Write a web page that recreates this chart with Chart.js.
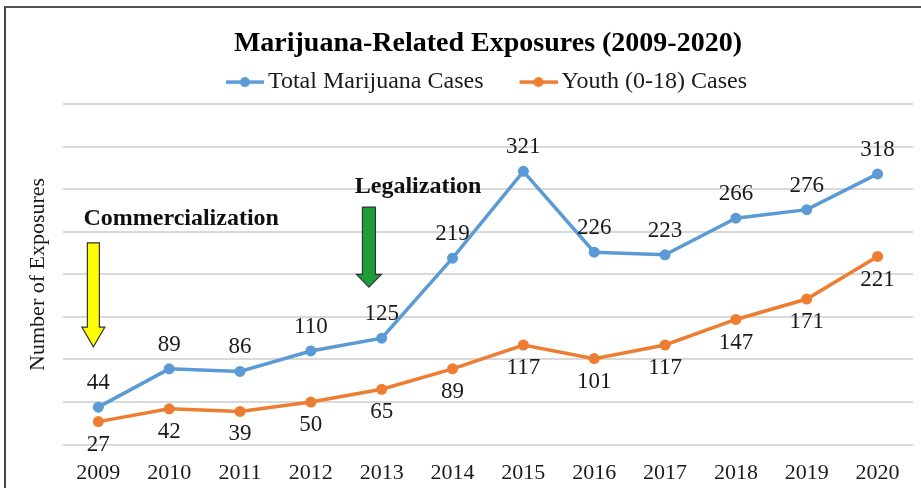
<!DOCTYPE html>
<html>
<head>
<meta charset="utf-8">
<title>Marijuana-Related Exposures</title>
<script src="https://cdn.jsdelivr.net/npm/chart.js@4.4.1/dist/chart.umd.min.js"></script>
<style>
    html, body { margin: 0; padding: 0; background: #fff; }
    #wrap { position: relative; width: 921px; height: 488px; overflow: hidden; }
    #frame { position: absolute; left: 4px; top: 6px; width: 1000px; height: 600px;
             border-left: 2px solid #444; border-top: 2px solid #555; }
    canvas { position: absolute; left: 0; top: 0; }
</style>
</head>
<body>
<div id="wrap">
    <div id="frame"></div>
    <canvas id="chart" width="921" height="488"></canvas>
</div>
<script>
// --- Data ---
const years = ["2009", "2010", "2011", "2012", "2013", "2014", "2015", "2016", "2017", "2018", "2019", "2020"];
const totalCases = [44, 89, 86, 110, 125, 219, 321, 226, 223, 266, 276, 318];
const youthCases = [27, 42, 39, 50, 65, 89, 117, 101, 117, 147, 171, 221];

const BLUE = "#5B9BD5";
const ORANGE = "#ED7D31";
const SERIF = "'Liberation Serif', 'Times New Roman', serif";

// legend marker: short line with a dot, right-aligned in a wider canvas
// (the empty left part gives the gap between the two legend items)
function legendMarker(color) {
    const c = document.createElement("canvas");
    c.width = 72; c.height = 12;
    const g = c.getContext("2d");
    g.strokeStyle = color; g.lineWidth = 3.5;
    g.beginPath(); g.moveTo(34, 6); g.lineTo(72, 6); g.stroke();
    g.fillStyle = color;
    g.beginPath(); g.arc(53, 6, 5, 0, Math.PI * 2); g.fill();
    return c;
}

// --- Value labels & the two event annotations ---
const overlayPlugin = {
    id: "overlay",
    afterDatasetsDraw(chart) {
        const ctx = chart.ctx;
        const xs = chart.scales.x, ys = chart.scales.y;
        ctx.save();
        ctx.font = "23px " + SERIF;
        ctx.fillStyle = "#1a1a1a";
        ctx.textAlign = "center";
        ctx.textBaseline = "middle";
        chart.getDatasetMeta(0).data.forEach((pt, i) => {
            ctx.fillText(totalCases[i], pt.x, pt.y - 24);
        });
        chart.getDatasetMeta(1).data.forEach((pt, i) => {
            ctx.fillText(youthCases[i], pt.x, pt.y + 23);
        });

        // arrows (x in category units, y in data units)
        function arrow(xi, yTop, yNeck, yTip, shaftW, headW, fill) {
            const cx = xs.getPixelForValue(xi);
            const t = ys.getPixelForValue(yTop), n = ys.getPixelForValue(yNeck), p = ys.getPixelForValue(yTip);
            ctx.beginPath();
            ctx.moveTo(cx - shaftW, t);
            ctx.lineTo(cx + shaftW, t);
            ctx.lineTo(cx + shaftW, n);
            ctx.lineTo(cx + headW, n);
            ctx.lineTo(cx, p);
            ctx.lineTo(cx - headW, n);
            ctx.lineTo(cx - shaftW, n);
            ctx.closePath();
            ctx.fillStyle = fill;
            ctx.fill();
            ctx.strokeStyle = "#333";
            ctx.lineWidth = 1.2;
            ctx.stroke();
        }
        arrow(-0.07, 237, 138, 115, 6, 11.5, "#FFFF00");
        arrow(3.82, 279, 200, 185, 6.5, 12.5, "#1E9E3A");

        ctx.font = "bold 24px " + SERIF;
        ctx.fillStyle = "#111";
        ctx.textAlign = "left";
        ctx.fillText("Commercialization", xs.getPixelForValue(-0.21), ys.getPixelForValue(265));
        ctx.fillText("Legalization", xs.getPixelForValue(3.62), ys.getPixelForValue(303));
        ctx.restore();
    }
};

new Chart(document.getElementById("chart"), {
    type: "line",
    data: {
        labels: years,
        datasets: [
            {
                label: "Total Marijuana Cases",
                data: totalCases,
                borderColor: BLUE,
                backgroundColor: BLUE,
                borderWidth: 3.5,
                pointRadius: 5.5,
                pointBorderWidth: 0,
                tension: 0
            },
            {
                label: "Youth (0-18) Cases",
                data: youthCases,
                borderColor: ORANGE,
                backgroundColor: ORANGE,
                borderWidth: 3.5,
                pointRadius: 5.5,
                pointBorderWidth: 0,
                tension: 0
            }
        ]
    },
    options: {
        responsive: false,
        animation: false,
        layout: { padding: { left: 34, right: 8, top: 0, bottom: 1 } },
        plugins: {
            title: {
                display: true,
                fullSize: false,
                text: "Marijuana-Related Exposures (2009-2020)",
                color: "#000",
                font: { family: SERIF, size: 28, weight: "bold" },
                padding: { top: 26.5, bottom: 0 }
            },
            legend: {
                display: true,
                labels: {
                    color: "#1a1a1a",
                    font: { family: SERIF, size: 24 },
                    usePointStyle: true,
                    pointStyleWidth: 56,
                    padding: 10,
                    generateLabels(chart) {
                        return chart.data.datasets.map((ds, i) => ({
                            text: ds.label,
                            datasetIndex: i,
                            fontColor: "#1a1a1a",
                            pointStyle: legendMarker(ds.borderColor),
                            lineWidth: 0,
                            hidden: false
                        }));
                    }
                }
            },
            tooltip: { enabled: false }
        },
        scales: {
            x: {
                offset: true,
                grid: { display: false, tickLength: 14 },
                border: { display: false },
                ticks: { color: "#1a1a1a", font: { family: SERIF, size: 22 }, padding: 1, maxRotation: 0 }
            },
            y: {
                min: 0,
                max: 400,
                ticks: { display: false, stepSize: 50 },
                grid: { color: "#d9d9d9", lineWidth: 2, drawTicks: false },
                border: { display: false },
                title: {
                    display: true,
                    text: "Number of Exposures",
                    color: "#1a1a1a",
                    font: { family: SERIF, size: 22 },
                    padding: { top: -9, bottom: 11.5 }
                }
            }
        }
    },
    plugins: [overlayPlugin]
});
</script>
</body>
</html>
